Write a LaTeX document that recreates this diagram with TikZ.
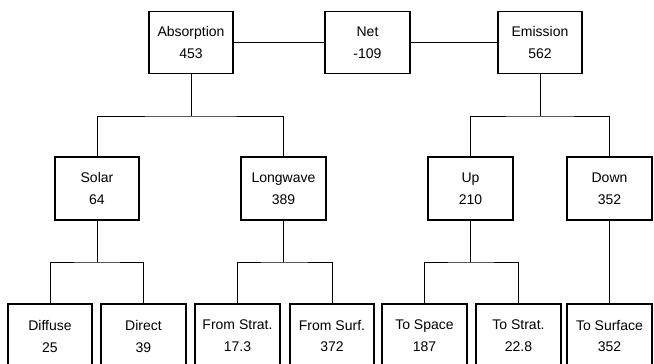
\documentclass[tikz,border=0pt]{standalone}
\usepackage{fontspec}
\setmainfont{Liberation Sans}
\usepackage{tikz}
\usetikzlibrary{positioning,calc}

\begin{document}
\begin{tikzpicture}[x=0.75pt,y=-0.75pt,
blk/.style={draw,line width=1.4pt,minimum width=63.5pt,minimum height=46.5pt,inner sep=1pt,align=center,font=\fontsize{10.5}{16.5}\selectfont},
conn/.style={line width=0.6pt}]
\useasboundingbox (0,0) rectangle (654,364);
% top row
\node[blk] (abs) at (191,42.5) {Absorption\\453};
\node[blk] (net) at (367.5,42.5) {Net\\-109};
\node[blk] (emi) at (540,42.5) {Emission\\562};
% second row
\node[blk,minimum height=47pt] (sol) at (97,188.5) {Solar\\64};
\node[blk,minimum height=47pt] (lw) at (283.5,188.5) {Longwave\\389};
\node[blk,minimum height=47pt] (up) at (470.5,188.5) {Up\\210};
\node[blk,minimum height=47pt] (down) at (609.5,188.5) {Down\\352};
% bottom row
\node[blk,minimum height=48pt] (dif) at (50,336) {Diffuse\\25};
\node[blk,minimum height=48pt] (dir) at (143.5,336) {Direct\\39};
\node[blk,minimum height=48pt] (fstr) at (237.5,336) {From Strat.\\17.3};
\node[blk,minimum height=48pt] (fsur) at (332,336) {From Surf.\\372};
\node[blk,minimum height=48pt] (tspa) at (424.5,336) {To Space\\187};
\node[blk,minimum height=48pt] (tstr) at (518.5,336) {To Strat.\\22.8};
\node[blk,minimum height=48pt] (tsur) at (609.5,336) {To Surface\\352};
\coordinate (absbar) at (191,116);
\coordinate (emibar) at (540,116);
\coordinate (solbar) at (97,262);
\coordinate (lwbar) at (283.5,262);
\coordinate (upbar) at (470.5,262);
\draw[conn] (abs)--(net);
\draw[conn] (net)--(emi);
\draw[conn] (abs)--(absbar);
\draw[conn] (sol.north)|-(absbar)-|(lw.north);
\draw[conn] (emi)--(emibar);
\draw[conn] (up.north)|-(emibar)-|(down.north);
\draw[conn] (sol)--(solbar);
\draw[conn] (dif.north)|-(solbar)-|(dir.north);
\draw[conn] (lw)--(lwbar);
\draw[conn] (fstr.north)|-(lwbar)-|(fsur.north);
\draw[conn] (up)--(upbar);
\draw[conn] (tspa.north)|-(upbar)-|(tstr.north);
\draw[conn] (down)--(tsur);
\end{tikzpicture}
\end{document}
